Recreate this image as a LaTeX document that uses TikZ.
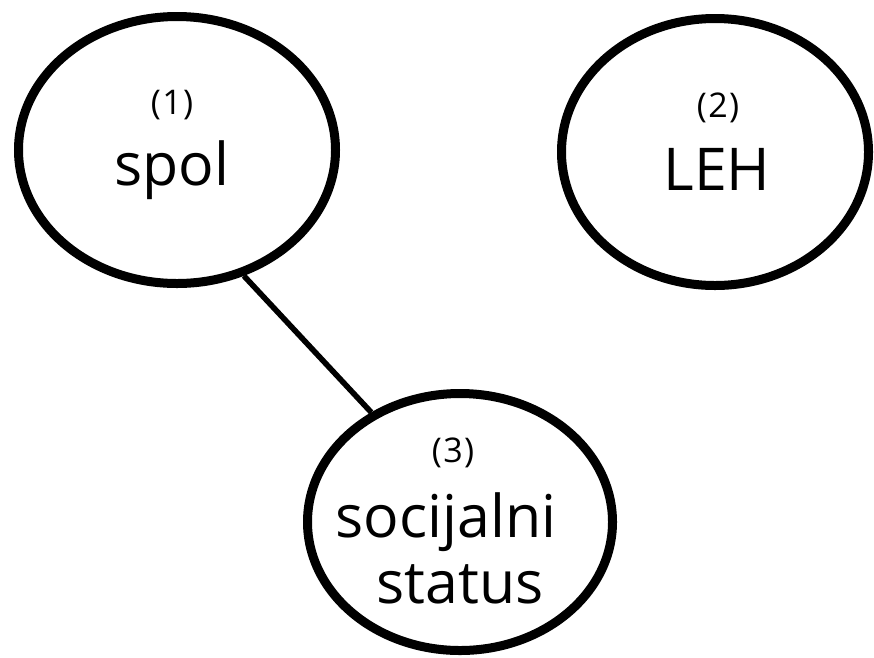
\documentclass[tikz,border=0pt]{standalone}
\usepackage{fontspec}
\setmainfont{Open Sans}
\usetikzlibrary{shapes.geometric}
\begin{document}
\begin{tikzpicture}[x=1pt,y=-1pt,
  varnode/.style={draw=black, line width=9pt, ellipse, inner sep=0pt},
  numlabel/.style={anchor=base, inner sep=0pt,
    font=\fontsize{34}{34}\selectfont\addfontfeatures{LetterSpace=4}},
  namelabel/.style={anchor=base, inner sep=0pt, font=\fontsize{59}{59}\selectfont},
  link/.style={draw=black, line width=5.6pt}]
\useasboundingbox (0,0) rectangle (874,657);
\fill[white] (0,0) rectangle (874,657);

% variable ellipses
\node[varnode, minimum width=317pt, minimum height=267pt] (e1) at (177,150) {};
\node[varnode, minimum width=307pt, minimum height=267pt] (e2) at (715,152) {};
\node[varnode, minimum width=305pt, minimum height=257pt] (e3) at (460,522) {};

% labels
\node[numlabel] (n1) at (172,114) {(1)};
\node[namelabel] (t1) at (172,185) {spol};
\node[numlabel] (n2) at (718,117) {(2)};
\node[namelabel] (t2) at (717,190) {LEH};
\node[numlabel] (n3) at (453,462) {(3)};
\node[namelabel] (t3a) at (446,537) {socijalni};
\node[namelabel] (t3b) at (460,603) {status};

% connection between spol and socijalni status
\draw[link] (e1.-62) -- (e3.129);
\end{tikzpicture}
\end{document}
